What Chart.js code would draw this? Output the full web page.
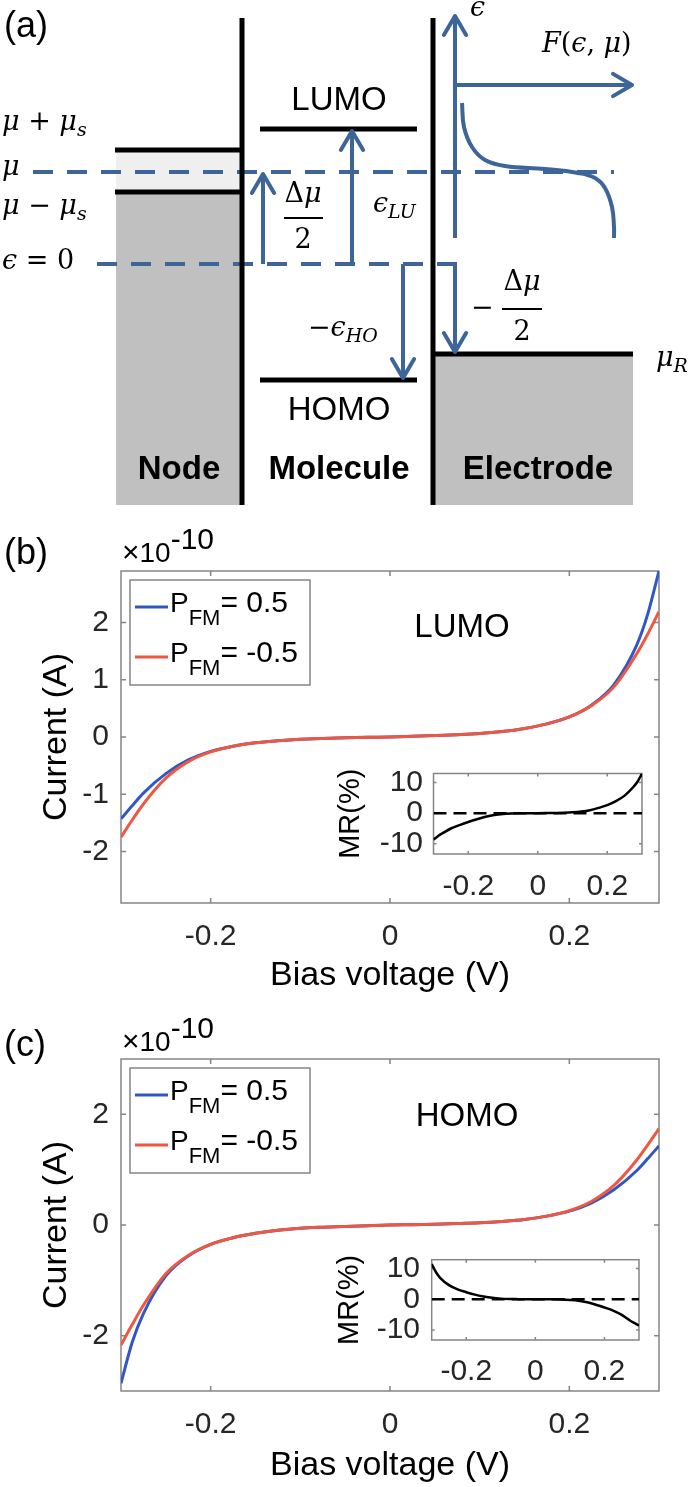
<!DOCTYPE html>
<html>
<head>
<meta charset="utf-8">
<script src="https://cdn.jsdelivr.net/npm/chart.js@4.4.1/dist/chart.umd.min.js"></script>
<style>
  body { margin: 0; background: #fff; }
  #fig { position: relative; width: 691px; height: 1487px; overflow: hidden; background: #fff; }
  #fig canvas { position: absolute; }
</style>
</head>
<body>
<div id="fig">
  <canvas id="diagram" width="691" height="505" style="left:0;top:0"></canvas>
  <canvas id="chart-b" width="691" height="490" style="left:0;top:510px"></canvas>
  <canvas id="inset-b" width="330" height="170" style="left:330px;top:745px"></canvas>
  <canvas id="chart-c" width="691" height="487" style="left:0;top:1000px"></canvas>
  <canvas id="inset-c" width="330" height="170" style="left:330px;top:1230px"></canvas>
</div>
<script>
// ---------- data: panels (b) and (c), current in units of 1e-10 A ----------
const biasV = [-0.3, -0.2875, -0.275, -0.25, -0.225, -0.2, -0.175, -0.15, -0.125, -0.1, -0.075, -0.05, -0.025,
  0, 0.025, 0.05, 0.075, 0.1, 0.125, 0.15, 0.175, 0.2, 0.225, 0.25, 0.275, 0.2875, 0.3];

const lumoBlue = [-1.43, -1.2, -0.98, -0.64, -0.4, -0.25, -0.16, -0.1, -0.065, -0.04, -0.025, -0.014, -0.006,
  0, 0.012, 0.025, 0.04, 0.06, 0.095, 0.15, 0.23, 0.35, 0.56, 0.92, 1.6, 2.15, 2.9];
const lumoRed = [-1.75, -1.45, -1.17, -0.72, -0.43, -0.26, -0.16, -0.1, -0.065, -0.04, -0.025, -0.014, -0.006,
  0, 0.012, 0.025, 0.04, 0.06, 0.095, 0.15, 0.23, 0.35, 0.55, 0.88, 1.45, 1.8, 2.19];
const homoBlue = [-2.86, -2.12, -1.6, -0.92, -0.56, -0.35, -0.23, -0.15, -0.095, -0.06, -0.04, -0.025, -0.012,
  0, 0.006, 0.014, 0.025, 0.04, 0.065, 0.1, 0.16, 0.25, 0.4, 0.64, 0.98, 1.2, 1.43];
const homoRed = [-2.17, -1.8, -1.45, -0.88, -0.55, -0.35, -0.23, -0.15, -0.095, -0.06, -0.04, -0.025, -0.012,
  0, 0.006, 0.014, 0.025, 0.04, 0.065, 0.1, 0.16, 0.26, 0.43, 0.72, 1.17, 1.45, 1.74];

// magnetoresistance insets, %
const mrLumo = [-8.6, -7.5, -6.6, -5.0, -3.9, -2.9, -2.0, -1.2, -0.6, -0.25, -0.1, -0.03, 0,
  0, 0.02, 0.06, 0.12, 0.25, 0.5, 0.95, 1.7, 2.6, 3.9, 5.7, 8.5, 10.3, 12.9];
const mrHomo = [11.5, 8.8, 6.9, 4.6, 3.2, 2.3, 1.5, 0.9, 0.45, 0.2, 0.08, 0.03, 0,
  0, 0, -0.03, -0.1, -0.25, -0.5, -1.0, -1.8, -2.7, -3.7, -5.1, -7.0, -7.8, -8.6];
const mrReference = 0;

const seriesLabels = ['P_FM= 0.5', 'P_FM= -0.5'];
const mainXTicks = [-0.2, 0, 0.2];
const lumoYTicks = [-2, -1, 0, 1, 2];
const homoYTicks = [-2, 0, 2];
const insetXTicks = [-0.2, 0, 0.2];
const insetYTicks = [-10, 0, 10];

// ---------- panel (a): level diagram, in figure pixels (y grows downward) ----------
const diagramBottom = 505;
const nodeDark = [[116, 192], [241, 192]];
const nodeLight = [[116, 150], [241, 150]];
const electrodeFill = [[434, 354], [633, 354]];
const wallLines = [[[242, 18], [242, 505]], [[433, 18], [433, 505]]];
const levelLines = [
  [[115, 150], [241, 150]],   // mu + mu_s
  [[115, 192], [241, 192]],   // mu - mu_s
  [[260, 129], [417, 129]],   // LUMO
  [[260, 380], [417, 380]],   // HOMO
  [[434, 354], [633, 354]]    // mu_R
];
const dashedLines = [
  [[33, 172], [614, 172]],    // mu
  [[97, 264], [468, 264]]     // eps = 0
];
const arrowLines = [
  [[263, 264], [263, 174]],
  [[352, 264], [352, 131]],
  [[403, 264], [403, 378]],
  [[455, 264], [455, 352]],
  [[455, 238], [455, 16]],
  [[455, 85], [632, 85]]
];
const fractionBars = [[[284, 218], [323, 218]], [[502, 309], [542, 309]]];
const fermiCurve = [[462, 103], [464, 127], [472, 147], [485, 160], [505, 166], [545, 169],
  [578, 173], [595, 178], [605, 188], [612, 207], [614, 227], [614, 238]];

// ---------- styles ----------
const SANS = '"Liberation Sans", Arial, Helvetica, sans-serif';
const SERIF = '"DejaVu Serif", "Liberation Serif", serif';
const BLUE = '#3157c6';
const RED = '#ee5843';
const DIAGRAM_BLUE = '#3d6599';
const AXIS_GRAY = '#858585';
const TEXT_DARK = '#262626';

Chart.defaults.font.family = SANS;

function sans(t, size, weight) { return { t, font: (weight || '') + ' ' + size + 'px ' + SANS, dy: 0 }; }
function mi(t) { return { t, font: 'italic 27px ' + SERIF, dy: 0 }; }
function mr(t) { return { t, font: '27px ' + SERIF, dy: 0 }; }
function ms(t) { return { t, font: 'italic 19px ' + SERIF, dy: 8 }; }

function drawRuns(ctx, runs, x, y, align) {
  ctx.textBaseline = 'middle';
  ctx.textAlign = 'left';
  let w = 0;
  runs.forEach(r => { ctx.font = r.font; w += ctx.measureText(r.t).width; });
  let cx = align === 'center' ? x - w / 2 : x;
  runs.forEach(r => {
    ctx.font = r.font;
    ctx.fillText(r.t, cx, y + r.dy);
    cx += ctx.measureText(r.t).width;
  });
}

function textPlugin(items, useScales) {
  return {
    id: 'figText',
    afterDraw(chart) {
      const { ctx } = chart;
      const sx = v => useScales ? chart.scales.x.getPixelForValue(v) : v;
      const sy = v => useScales ? chart.scales.y.getPixelForValue(v) : v;
      ctx.save();
      items.forEach(it => {
        ctx.fillStyle = it.color || '#000';
        drawRuns(ctx, it.runs, sx(it.x), sy(it.y), it.align);
      });
      ctx.restore();
    }
  };
}

const xy = (xs, ys) => xs.map((x, i) => ({ x, y: ys[i] }));
const seg = pts => pts.map(([x, y]) => ({ x, y }));

// ---------- panel (a) ----------
const arrowHeads = {
  id: 'arrowHeads',
  afterDatasetsDraw(chart) {
    const { ctx } = chart;
    chart.data.datasets.forEach((ds, i) => {
      if (!ds.arrow) return;
      const pts = chart.getDatasetMeta(i).data;
      const a = pts[pts.length - 2], b = pts[pts.length - 1];
      const ang = Math.atan2(b.y - a.y, b.x - a.x);
      const len = 22, spread = 0.53;
      ctx.save();
      ctx.strokeStyle = ds.borderColor;
      ctx.lineWidth = ds.borderWidth;
      ctx.lineCap = 'round';
      ctx.lineJoin = 'round';
      ctx.beginPath();
      ctx.moveTo(b.x - len * Math.cos(ang - spread), b.y - len * Math.sin(ang - spread));
      ctx.lineTo(b.x, b.y);
      ctx.lineTo(b.x - len * Math.cos(ang + spread), b.y - len * Math.sin(ang + spread));
      ctx.stroke();
      ctx.restore();
    });
  }
};

const diagramTexts = [
  { x: 4, y: 27, runs: [sans('(a)', 36)] },
  { x: 339, y: 101, align: 'center', runs: [sans('LUMO', 33)] },
  { x: 339, y: 411, align: 'center', runs: [sans('HOMO', 33)] },
  { x: 179, y: 470, align: 'center', runs: [sans('Node', 33, 'bold')] },
  { x: 339, y: 470, align: 'center', runs: [sans('Molecule', 33, 'bold')] },
  { x: 538, y: 470, align: 'center', runs: [sans('Electrode', 33, 'bold')] },
  { x: 2, y: 123, runs: [mi('μ'), mr(' + '), mi('μ'), ms('s')] },
  { x: 2, y: 168, runs: [mi('μ')] },
  { x: 2, y: 207, runs: [mi('μ'), mr(' − '), mi('μ'), ms('s')] },
  { x: 2, y: 262, runs: [mi('ϵ'), mr(' = 0')] },
  { x: 303, y: 195, align: 'center', runs: [mr('Δ'), mi('μ')] },
  { x: 303, y: 241, align: 'center', runs: [mr('2')] },
  { x: 373, y: 205, runs: [mi('ϵ'), ms('LU')] },
  { x: 308, y: 329, runs: [mr('−'), mi('ϵ'), ms('HO')] },
  { x: 471, y: 309, runs: [mr('−')] },
  { x: 522, y: 283, align: 'center', runs: [mr('Δ'), mi('μ')] },
  { x: 522, y: 333, align: 'center', runs: [mr('2')] },
  { x: 656, y: 359, runs: [mi('μ'), ms('R')] },
  { x: 470, y: 9, runs: [mi('ϵ')] },
  { x: 542, y: 45, runs: [mi('F'), mr('('), mi('ϵ'), mr(', '), mi('μ'), mr(')')] }
];

const lineDefaults = { showLine: true, pointRadius: 0, fill: false, borderCapStyle: 'butt', order: 1 };
const diagramDatasets = [
  { data: seg(nodeDark), fill: { value: diagramBottom }, backgroundColor: '#c0c0c0', borderWidth: 0, order: 10 },
  { data: seg(nodeLight), fill: { value: nodeDark[0][1] }, backgroundColor: '#efefef', borderWidth: 0, order: 10 },
  { data: seg(electrodeFill), fill: { value: diagramBottom }, backgroundColor: '#c0c0c0', borderWidth: 0, order: 10 },
  ...wallLines.map(l => ({ data: seg(l), borderColor: '#000', borderWidth: 5 })),
  ...levelLines.map(l => ({ data: seg(l), borderColor: '#000', borderWidth: 5 })),
  ...fractionBars.map(l => ({ data: seg(l), borderColor: '#000', borderWidth: 2 })),
  ...dashedLines.map(l => ({ data: seg(l), borderColor: DIAGRAM_BLUE, borderWidth: 4, borderDash: [20, 14] })),
  ...arrowLines.map(l => ({ data: seg(l), borderColor: DIAGRAM_BLUE, borderWidth: 4, arrow: true })),
  { data: seg(fermiCurve), borderColor: DIAGRAM_BLUE, borderWidth: 4, tension: 0.4 }
].map(d => Object.assign({}, lineDefaults, d));

new Chart(document.getElementById('diagram'), {
  type: 'scatter',
  data: { datasets: diagramDatasets },
  options: {
    responsive: false, animation: false, events: [],
    layout: { padding: 0 },
    plugins: { legend: { display: false }, tooltip: { enabled: false } },
    scales: {
      x: { type: 'linear', min: 0, max: 691, display: false },
      y: { type: 'linear', min: 0, max: diagramBottom, reverse: true, display: false }
    }
  },
  plugins: [arrowHeads, textPlugin(diagramTexts, true)]
});

// ---------- panels (b), (c) ----------
function boxPlugin(tickLen, whiteFill) {
  return {
    id: 'matlabBox',
    beforeDatasetsDraw(chart) {
      const { ctx, chartArea: a, scales: { x, y } } = chart;
      ctx.save();
      if (whiteFill) {
        ctx.fillStyle = '#fff';
        ctx.fillRect(a.left, a.top, a.width, a.height);
      }
      ctx.strokeStyle = AXIS_GRAY;
      ctx.lineWidth = 1.5;
      ctx.strokeRect(a.left, a.top, a.width, a.height);
      ctx.beginPath();
      x.ticks.forEach(t => {
        const px = x.getPixelForValue(t.value);
        ctx.moveTo(px, a.bottom); ctx.lineTo(px, a.bottom - tickLen);
        ctx.moveTo(px, a.top); ctx.lineTo(px, a.top + tickLen);
      });
      y.ticks.forEach(t => {
        const py = y.getPixelForValue(t.value);
        ctx.moveTo(a.left, py); ctx.lineTo(a.left + tickLen, py);
        ctx.moveTo(a.right, py); ctx.lineTo(a.right - tickLen, py);
      });
      ctx.stroke();
      ctx.restore();
    }
  };
}

function legendPlugin(box) {
  return {
    id: 'pfmLegend',
    afterDatasetsDraw(chart) {
      const { ctx } = chart;
      ctx.save();
      ctx.fillStyle = '#fff';
      ctx.fillRect(box.x, box.y, box.w, box.h);
      ctx.strokeStyle = AXIS_GRAY;
      ctx.lineWidth = 1.5;
      ctx.strokeRect(box.x, box.y, box.w, box.h);
      chart.data.datasets.forEach((ds, i) => {
        const yRow = box.rows[i];
        ctx.strokeStyle = ds.borderColor;
        ctx.lineWidth = 3;
        ctx.beginPath();
        ctx.moveTo(box.x + 5, yRow); ctx.lineTo(box.x + 38, yRow);
        ctx.stroke();
        const m = ds.label.match(/^(\w)_(\w+)(.*)$/);
        ctx.fillStyle = '#000';
        drawRuns(ctx, [sans(m[1], 28), { t: m[2], font: '22px ' + SANS, dy: 15 }, sans(m[3], 30)],
          box.x + 40, yRow - 3, 'left');
      });
      ctx.restore();
    }
  };
}

function axisX(ticks, lay, title, fontSize) {
  return {
    type: 'linear', min: -0.3, max: 0.3,
    afterBuildTicks: s => { s.ticks = ticks.map(value => ({ value })); },
    afterFit: s => { s.height = lay.xHeight; },
    grid: { display: false, drawTicks: false, tickLength: 0 },
    border: { display: false },
    ticks: { padding: lay.xPad, color: TEXT_DARK, font: { size: 30 }, maxRotation: 0, callback: v => String(v) },
    title: { display: true, text: title, color: '#000', font: { size: fontSize }, padding: 0 }
  };
}

function axisY(min, max, ticks, lay, title, fontSize) {
  return {
    type: 'linear', min, max,
    afterBuildTicks: s => { s.ticks = ticks.map(value => ({ value })); },
    afterFit: s => { s.width = lay.yWidth; },
    grid: { display: false, drawTicks: false, tickLength: 0 },
    border: { display: false },
    ticks: { padding: lay.yPad, color: TEXT_DARK, font: { size: 30 }, callback: v => String(v) },
    title: { display: true, text: title, color: '#000', font: { size: fontSize }, padding: 0 }
  };
}

function ivChart(id, blueVals, redVals, yMin, yMax, yTicks, lay, texts) {
  const datasets = [
    { label: seriesLabels[0], data: xy(biasV, blueVals), borderColor: BLUE, order: 2 },
    { label: seriesLabels[1], data: xy(biasV, redVals), borderColor: RED, order: 1 }
  ].map(d => Object.assign(d, { showLine: true, pointRadius: 0, borderWidth: 3, fill: false, cubicInterpolationMode: 'monotone' }));
  return new Chart(document.getElementById(id), {
    type: 'scatter',
    data: { datasets },
    options: {
      responsive: false, animation: false, events: [],
      layout: { padding: lay.padding },
      plugins: { legend: { display: false }, tooltip: { enabled: false } },
      scales: {
        x: axisX(mainXTicks, lay, 'Bias voltage (V)', 34),
        y: axisY(yMin, yMax, yTicks, lay, 'Current (A)', 34)
      }
    },
    plugins: [boxPlugin(5, false), legendPlugin({ x: 130, y: lay.legendTop, w: 180, h: 105, rows: [lay.legendTop + 27, lay.legendTop + 77] }), textPlugin(texts, false)]
  });
}

function mrInset(id, mrVals, lay) {
  const ends = [biasV[0], biasV[biasV.length - 1]];
  const datasets = [
    { data: xy(ends, [mrReference, mrReference]), borderColor: '#000', borderWidth: 2.5, borderDash: [13, 7], order: 1 },
    { data: xy(biasV, mrVals), borderColor: '#000', borderWidth: 2.5, cubicInterpolationMode: 'monotone', order: 2 }
  ].map(d => Object.assign(d, { showLine: true, pointRadius: 0, fill: false }));
  return new Chart(document.getElementById(id), {
    type: 'scatter',
    data: { datasets },
    options: {
      responsive: false, animation: false, events: [],
      layout: { padding: lay.padding },
      plugins: { legend: { display: false }, tooltip: { enabled: false } },
      scales: {
        x: axisX(insetXTicks, lay, '', 28),
        y: axisY(-13.3, 12.9, insetYTicks, lay, 'MR(%)', 29)
      }
    },
    plugins: [boxPlugin(3, true)]
  });
}
function noXTitle(chart) { chart.options.scales.x.title.display = false; chart.update(); }

const sciRuns = [sans('×', 30), sans('10', 28), { t: '-10', font: '30px ' + SANS, dy: -13 }];

ivChart('chart-b', lumoBlue, lumoRed, -2.9, 2.9, lumoYTicks,
  { padding: { left: 36, top: 61, right: 32, bottom: 4 }, yWidth: 85, xHeight: 93, xPad: 16, yPad: 12, legendTop: 70 },
  [
    { x: 4, y: 44, runs: [sans('(b)', 36)] },
    { x: 122, y: 44, runs: sciRuns },
    { x: 462, y: 118, align: 'center', runs: [sans('LUMO', 33)] }
  ]);

ivChart('chart-c', homoBlue, homoRed, -3, 3, homoYTicks,
  { padding: { left: 36, top: 59, right: 32, bottom: 1 }, yWidth: 85, xHeight: 95, xPad: 16, yPad: 12, legendTop: 68 },
  [
    { x: 4, y: 46, runs: [sans('(c)', 36)] },
    { x: 122, y: 43, runs: sciRuns },
    { x: 467, y: 117, align: 'center', runs: [sans('HOMO', 33)] }
  ]);

noXTitle(mrInset('inset-b', mrLumo,
  { padding: { left: 4, top: 13, right: 18, bottom: 11 }, yWidth: 99.5, xHeight: 50, xPad: 15, yPad: 10.5 }));
noXTitle(mrInset('inset-c', mrHomo,
  { padding: { left: 3, top: 13, right: 21, bottom: 11 }, yWidth: 98.7, xHeight: 49, xPad: 14, yPad: 11.7 }));
</script>
</body>
</html>
